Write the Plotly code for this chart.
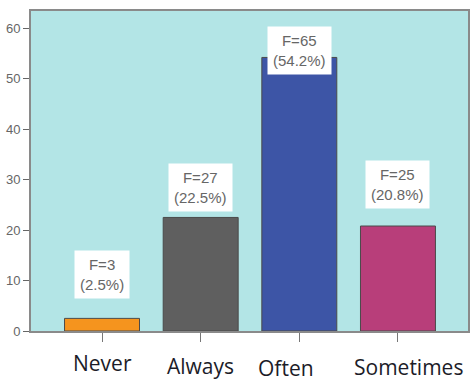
import plotly.graph_objects as go

categories = ["Never", "Always", "Often", "Sometimes"]
percent = [2.5, 22.5, 54.2, 20.8]
freq = [3, 27, 65, 25]
bar_colors = ["#f5941e", "#5f5f5f", "#3d55a6", "#b83e7a"]

# label layout tweaks (pixels)
box_shift = [19, 5, -18, 17]
cat_xshift = [0, 0, -13, 11]
cat_yshift = [-32, -35, -37, -36]

fig = go.Figure()
fig.add_trace(go.Bar(
    x=categories, y=percent,
    marker=dict(color=bar_colors, line=dict(color="#4a4a4a", width=1)),
    width=0.76,
    hoverinfo="skip",
))

for i, (c, p, f) in enumerate(zip(categories, percent, freq)):
    fig.add_annotation(
        x=c, y=p, xref="x", yref="y",
        text=f"F={f}<br>({p}%)",
        showarrow=False, yanchor="bottom", yshift=box_shift[i],
        font=dict(family="Liberation Sans, Arial", size=15, color="#666666"),
        bgcolor="white", borderpad=5,
    )
    fig.add_annotation(
        x=c, y=0, xref="x", yref="paper",
        text=c, showarrow=False, yanchor="middle",
        xshift=cat_xshift[i], yshift=cat_yshift[i],
        font=dict(family="Open Sans", size=21, color="#1c1c28"),
    )

fig.update_layout(
    width=471, height=381,
    margin=dict(l=31, r=1, t=11, b=50),
    paper_bgcolor="white",
    plot_bgcolor="#b3e5e6",
    showlegend=False,
)
fig.update_xaxes(
    range=[-0.72, 3.71], showticklabels=False,
    ticks="outside", ticklen=9, tickcolor="#777777", tickwidth=1,
    showline=True, linecolor="#8a8a8a", linewidth=2, mirror=True,
    showgrid=False, zeroline=False,
)
fig.update_yaxes(
    range=[0, 63.4], tickvals=[0, 10, 20, 30, 40, 50, 60],
    ticks="outside", ticklen=6, tickcolor="#666666", tickwidth=1,
    tickfont=dict(family="Liberation Sans, Arial", size=13, color="#666666"),
    showline=True, linecolor="#8a8a8a", linewidth=2, mirror=True,
    showgrid=False, zeroline=False,
)

fig.write_html("out.html")
